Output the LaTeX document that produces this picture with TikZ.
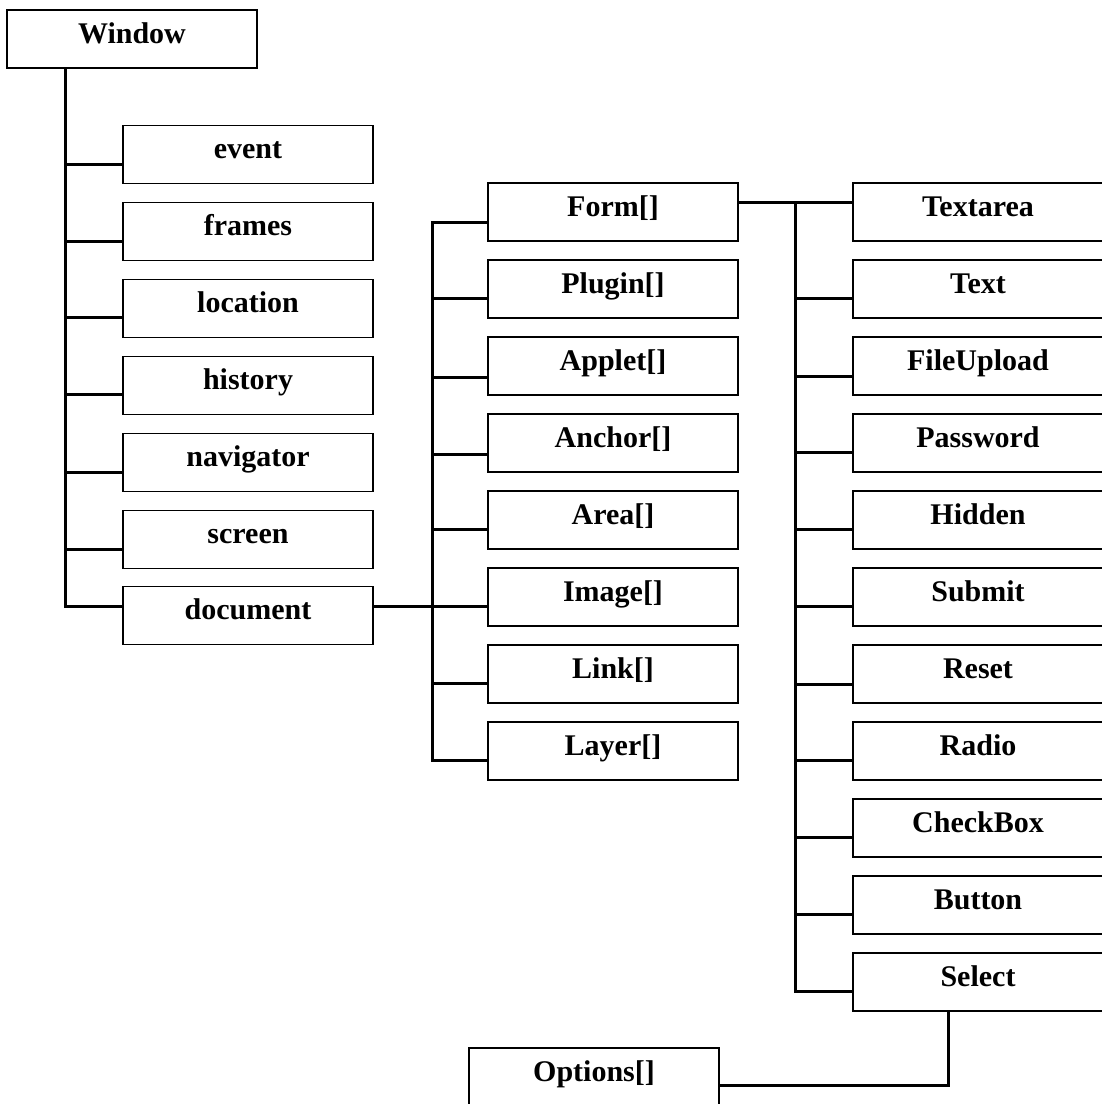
\documentclass[tikz,border=0pt]{standalone}
\usepackage{fontspec}
\setmainfont{Liberation Serif}
\usetikzlibrary{calc}

\tikzset{
  obj/.style={draw,line width=1pt,minimum width=187.5pt,minimum height=43.5pt,
    inner sep=0pt,text height=17pt,text depth=11pt,
    font=\fontsize{22.5}{27}\selectfont\bfseries},
  link/.style={line width=2.25pt}
}

\begin{document}
\begin{tikzpicture}[x=0.75pt,y=0.75pt,yscale=-1,xscale=1]

\useasboundingbox (0,0) rectangle (1102,1104);
\clip (0,0) rectangle (1102,1104);

% bus lines
\coordinate (bus1) at (65,0);
\coordinate (bus2) at (432,0);
\coordinate (bus3) at (795,0);

\node[obj] (window) at (132,39) {Window};

% window properties
\node[obj] (event) at (248,154.5) {event};
\node[obj] (frames) at (248,231.5) {frames};
\node[obj] (location) at (248,308.5) {location};
\node[obj] (history) at (248,385.5) {history};
\node[obj] (navigator) at (248,462.5) {navigator};
\node[obj] (screen) at (248,539.5) {screen};
\node[obj] (document) at (248,615.5) {document};

% document collections
\node[obj] (form) at (613,212) {Form[]};
\node[obj] (plugin) at (613,289) {Plugin[]};
\node[obj] (applet) at (613,366) {Applet[]};
\node[obj] (anchor) at (613,443) {Anchor[]};
\node[obj] (area) at (613,520) {Area[]};
\node[obj] (image) at (613,597) {Image[]};
\node[obj] (link) at (613,674) {Link[]};
\node[obj] (layer) at (613,751) {Layer[]};

% form elements
\node[obj] (textarea) at (978,212) {Textarea};
\node[obj] (text) at (978,289) {Text};
\node[obj] (fileupload) at (978,366) {FileUpload};
\node[obj] (password) at (978,443) {Password};
\node[obj] (hidden) at (978,520) {Hidden};
\node[obj] (submit) at (978,597) {Submit};
\node[obj] (reset) at (978,674) {Reset};
\node[obj] (radio) at (978,751) {Radio};
\node[obj] (checkbox) at (978,828) {CheckBox};
\node[obj] (button) at (978,905) {Button};
\node[obj] (select) at (978,982) {Select};

\node[obj] (options) at (594,1077) {Options[]};

% window tree
\draw[link] (window.south -| bus1) |- ($(document.west)+(0,-9.5)$);
\draw[link] ($(event.west)+(0,9.5)$) coordinate (c) -- (c -| bus1);
\draw[link] ($(frames.west)+(0,9.5)$) coordinate (c) -- (c -| bus1);
\draw[link] ($(location.west)+(0,9)$) coordinate (c) -- (c -| bus1);
\draw[link] ($(history.west)+(0,8.5)$) coordinate (c) -- (c -| bus1);
\draw[link] ($(navigator.west)+(0,9.5)$) coordinate (c) -- (c -| bus1);
\draw[link] ($(screen.west)+(0,9.5)$) coordinate (c) -- (c -| bus1);

% document tree
\draw[link] ($(document.east)+(0,-9.5)$) coordinate (c) -- (c -| image.west);
\draw[link] ($(form.west)+(0,10)$) coordinate (c) -- (c -| bus2) |- ($(layer.west)+(0,9.5)$);
\draw[link] ($(plugin.west)+(0,9)$) coordinate (c) -- (c -| bus2);
\draw[link] ($(applet.west)+(0,11)$) coordinate (c) -- (c -| bus2);
\draw[link] ($(anchor.west)+(0,11)$) coordinate (c) -- (c -| bus2);
\draw[link] ($(area.west)+(0,9.5)$) coordinate (c) -- (c -| bus2);
\draw[link] ($(link.west)+(0,9.5)$) coordinate (c) -- (c -| bus2);

% form tree
\draw[link] ($(form.east)+(0,-10)$) coordinate (c) -- (c -| textarea.west);
\draw[link] (c -| bus3) |- ($(select.west)+(0,9)$);
\draw[link] ($(text.west)+(0,9.5)$) coordinate (c) -- (c -| bus3);
\draw[link] ($(fileupload.west)+(0,10)$) coordinate (c) -- (c -| bus3);
\draw[link] ($(password.west)+(0,9)$) coordinate (c) -- (c -| bus3);
\draw[link] ($(hidden.west)+(0,9)$) coordinate (c) -- (c -| bus3);
\draw[link] ($(submit.west)+(0,9)$) coordinate (c) -- (c -| bus3);
\draw[link] ($(reset.west)+(0,10)$) coordinate (c) -- (c -| bus3);
\draw[link] ($(radio.west)+(0,9)$) coordinate (c) -- (c -| bus3);
\draw[link] ($(checkbox.west)+(0,9.5)$) coordinate (c) -- (c -| bus3);
\draw[link] ($(button.west)+(0,9)$) coordinate (c) -- (c -| bus3);

% select options
\draw[link] ($(select.south)+(-30,0)$) |- ($(options.east)+(0,8)$);

\end{tikzpicture}
\end{document}
